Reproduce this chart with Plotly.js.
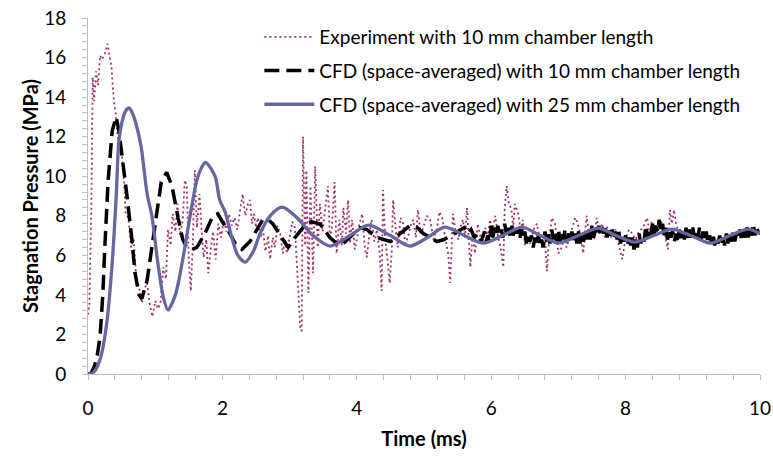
<!DOCTYPE html>
<html>
<head>
<meta charset="utf-8">
<script src="https://cdn.plot.ly/plotly-3.0.1.min.js"></script>
<style>html,body{margin:0;padding:0;background:#fff;}#chart{width:773px;height:460px;}</style>
</head>
<body>
<div id="chart"></div>
<script>
// ---- Data ----
const seriesNames = [
  "Experiment with 10 mm chamber length",
  "CFD (space-averaged) with 10 mm chamber length",
  "CFD (space-averaged) with 25 mm chamber length"
];

// Experiment, 10 mm chamber (time in ms, pressure in MPa)
const expTime = [0,0.02,0.05,0.07,0.09,0.12,0.15,0.18,0.21,0.25,0.29,0.32,0.35,0.38,0.41,0.45,0.5,0.53,0.56,0.6,0.64,0.68,0.72,0.76,0.8,0.84,0.88,0.92,0.96,1.0,1.04,1.08,1.12,1.16,1.19,1.23,1.26,1.3,1.33,1.37,1.41,1.44,1.47,1.5,1.53,1.56,1.59,1.62,1.66,1.69,1.72,1.76,1.79,1.83,1.86,1.9,1.94,1.98,2.02,2.06,2.1,2.14,2.18,2.22,2.26,2.3,2.34,2.38,2.41,2.44,2.47,2.5,2.53,2.57,2.6,2.64,2.68,2.71,2.75,2.78,2.82,2.86,2.9,2.93,2.96,3.0,3.04,3.08,3.11,3.13,3.16,3.18,3.2,3.23,3.25,3.28,3.31,3.35,3.38,3.42,3.45,3.49,3.53,3.57,3.6,3.63,3.67,3.7,3.74,3.78,3.8,3.84,3.87,3.9,3.93,3.97,4.0,4.04,4.08,4.12,4.15,4.19,4.22,4.26,4.3,4.34,4.37,4.39,4.42,4.45,4.49,4.52,4.54,4.58,4.61,4.65,4.69,4.72,4.76,4.8,4.84,4.88,4.91,4.95,4.99,5.04,5.09,5.14,5.19,5.23,5.27,5.31,5.36,5.39,5.43,5.47,5.51,5.55,5.58,5.61,5.64,5.69,5.72,5.76,5.8,5.83,5.87,5.91,5.95,5.98,6.02,6.06,6.1,6.14,6.18,6.2,6.23,6.26,6.3,6.33,6.35,6.4,6.44,6.47,6.5,6.54,6.58,6.63,6.68,6.72,6.75,6.8,6.83,6.85,6.88,6.9,6.95,7.0,7.05,7.09,7.12,7.16,7.2,7.25,7.29,7.33,7.37,7.42,7.45,7.49,7.53,7.57,7.61,7.65,7.69,7.72,7.76,7.8,7.85,7.9,7.95,8.0,8.05,8.1,8.15,8.2,8.26,8.32,8.36,8.39,8.44,8.49,8.54,8.58,8.63,8.66,8.69,8.72,8.75,8.78];
const expPressure = [3.0,3.5,8.5,15.0,13.8,15.3,14.6,16.1,15.9,16.2,16.7,16.1,15.5,14.0,13.2,11.8,11.2,10.2,8.1,7.9,6.4,6.8,4.75,4.4,3.6,4.3,4.6,3.5,2.9,3.7,3.3,3.6,5.4,4.8,7.3,6.5,8.1,7.2,8.6,7.0,7.8,9.8,9.5,5.8,4.2,6.6,10.3,7.4,9.1,7.3,5.9,6.8,5.1,6.4,7.2,5.8,7.6,6.9,7.8,7.2,8.1,7.5,7.9,7.3,8.2,9.1,8.0,8.6,8.8,7.6,8.1,7.4,7.9,6.9,7.4,6.2,7.0,5.8,6.9,6.4,7.5,7.1,6.1,6.8,6.1,6.9,7.7,7.4,5.5,4.6,2.2,2.2,12.0,6.5,10.3,4.1,9.5,5.1,10.5,6.4,8.6,7.2,8.4,9.5,6.8,7.4,9.7,6.1,7.8,6.5,8.4,7.1,8.8,6.6,7.8,6.3,6.8,7.6,8.1,6.4,5.9,7.2,7.8,6.7,7.3,6.1,4.2,9.3,7.0,5.8,4.6,6.2,8.8,7.3,6.4,7.9,7.6,6.6,6.9,7.5,7.8,6.9,8.3,7.1,7.4,8.0,7.8,6.8,7.3,8.2,7.9,7.0,6.1,4.6,8.1,7.2,6.8,7.5,7.8,6.9,8.4,5.4,7.0,6.1,7.6,7.1,6.6,7.4,6.9,7.8,7.2,8.0,7.0,6.4,5.4,8.3,9.5,8.7,8.3,7.4,8.6,8.1,7.2,7.8,6.5,7.0,6.6,7.3,7.6,6.9,6.4,6.9,5.2,6.3,7.2,7.9,7.6,6.1,6.4,7.0,6.4,6.8,7.3,7.9,7.6,6.9,6.1,8.0,7.2,7.4,6.8,7.9,7.1,7.6,6.9,7.5,7.0,6.9,7.3,6.5,5.8,6.9,7.3,7.1,6.8,7.2,7.4,7.9,7.1,7.7,7.0,7.4,7.7,7.1,6.3,8.3,7.6,8.3,7.6,7.3];

// CFD space-averaged, 10 mm chamber
const cfd10Time = [0,0.05,0.1,0.14,0.18,0.22,0.25,0.3,0.36,0.42,0.46,0.52,0.58,0.65,0.7,0.76,0.8,0.88,0.95,1.03,1.09,1.17,1.25,1.34,1.41,1.47,1.55,1.62,1.74,1.86,1.93,2.0,2.08,2.19,2.29,2.41,2.51,2.6,2.68,2.75,2.9,2.98,3.08,3.2,3.32,3.45,3.6,3.7,3.8,3.92,4.05,4.15,4.3,4.5,4.65,4.79,4.9,4.99,5.1,5.19,5.3,5.39,5.5,5.6,5.65,5.7,5.75,5.8,5.85,
  5.9,5.925,5.95,5.975,6.0,6.025,6.05,6.075,6.1,6.125,6.15,6.175,6.2,6.225,6.25,6.275,6.3,6.325,6.35,6.375,6.4,6.425,6.45,6.475,6.5,6.525,6.55,6.575,6.6,6.625,6.65,6.675,6.7,6.725,6.75,6.775,6.8,6.825,6.85,6.875,6.9,6.925,6.95,6.975,
  7.0,7.025,7.05,7.075,7.1,7.125,7.15,7.175,7.2,7.225,7.25,7.275,7.3,7.325,7.35,7.375,7.4,7.425,7.45,7.475,7.5,7.525,7.55,7.575,7.6,7.625,7.65,7.675,7.7,7.725,7.75,7.775,7.8,7.825,7.85,7.875,7.9,7.925,7.95,7.975,
  8.0,8.025,8.05,8.075,8.1,8.125,8.15,8.175,8.2,8.225,8.25,8.275,8.3,8.325,8.35,8.375,8.4,8.425,8.45,8.475,8.5,8.525,8.55,8.575,8.6,8.625,8.65,8.675,8.7,8.725,8.75,8.775,8.8,8.825,8.85,8.875,8.9,8.925,8.95,8.975,
  9.0,9.025,9.05,9.075,9.1,9.125,9.15,9.175,9.2,9.225,9.25,9.275,9.3,9.325,9.35,9.375,9.4,9.425,9.45,9.475,9.5,9.525,9.55,9.575,9.6,9.625,9.65,9.675,9.7,9.725,9.75,9.775,9.8,9.825,9.85,9.875,9.9,9.925,9.95,9.975,10.0];
const cfd10Pressure = [0,0.05,0.45,1.0,1.9,4.0,6.4,9.8,12.3,13.0,12.3,10.8,9.0,6.9,5.1,4.0,3.8,4.75,6.4,8.1,9.7,10.2,9.5,7.9,6.8,6.4,6.3,6.4,7.1,8.0,8.1,7.7,7.3,6.6,6.3,6.7,7.3,7.8,7.8,7.6,6.8,6.4,6.9,7.4,7.7,7.6,6.9,6.6,6.6,7.0,7.4,7.3,6.9,6.7,7.1,7.5,7.4,7.1,6.9,6.7,6.8,7.0,7.2,7.4,7.1,7.3,6.9,7.1,6.7,
  7.2,6.7,7.0,6.6, 7.5,6.9,7.4,7.0, 7.5,7.0,7.3,6.9, 7.6,7.1,7.5,7.0, 7.6,7.0,7.4,7.1, 7.4,6.8,7.3,6.9, 7.2,6.6,7.0,6.7, 7.0,6.4,6.9,6.5, 7.0,6.5,6.8,6.4, 7.2,6.7,7.1,6.6, 7.3,6.8,7.2,6.7,
  7.3,6.7,7.2,6.8, 7.3,6.8,7.1,6.7, 7.2,6.7,7.1,6.6, 7.2,6.6,7.0,6.7, 7.3,6.8,7.2,6.8, 7.5,6.9,7.3,7.0, 7.5,7.0,7.4,7.1, 7.5,6.9,7.4,7.0, 7.3,6.8,7.2,6.8, 7.2,6.6,7.0,6.7,
  7.0,6.5,6.9,6.5, 6.9,6.3,6.8,6.4, 7.1,6.6,7.0,6.7, 7.5,6.9,7.3,7.0, 7.6,7.1,7.5,7.2, 7.8,7.2,7.6,7.0, 7.4,6.8,7.2,6.9, 7.2,6.7,7.1,6.7, 7.3,6.7,7.2,6.8, 7.4,6.8,7.3,6.9,
  7.4,6.9,7.3,6.9, 7.4,6.8,7.2,6.8, 7.2,6.6,7.0,6.7, 7.1,6.5,6.9,6.6, 7.0,6.5,6.9,6.5, 7.1,6.6,7.0,6.7, 7.2,6.7,7.1,6.8, 7.3,6.8,7.2,6.9, 7.5,6.9,7.4,7.0, 7.6,7.0,7.5,7.1, 7.2];

// CFD space-averaged, 25 mm chamber
const cfd25Time = [0,0.05,0.1,0.19,0.28,0.36,0.42,0.46,0.51,0.56,0.61,0.66,0.71,0.79,0.88,0.95,1.04,1.12,1.19,1.3,1.4,1.47,1.55,1.62,1.7,1.75,1.89,1.96,2.04,2.14,2.23,2.34,2.46,2.56,2.71,2.89,3.11,3.35,3.6,3.9,4.17,4.5,4.79,5.05,5.31,5.6,5.88,6.17,6.46,6.73,7.0,7.3,7.59,7.86,8.14,8.42,8.69,8.97,9.26,9.55,9.82,10.0];
const cfd25Pressure = [0,0.02,0.15,0.86,2.6,5.6,9.0,11.8,12.8,13.3,13.45,13.2,12.7,11.5,9.1,8.0,5.6,3.9,3.24,4.0,5.6,7.0,8.6,9.8,10.5,10.7,10.0,8.8,8.2,6.9,6.0,5.66,6.2,7.1,8.0,8.44,7.9,7.0,6.47,7.0,7.53,7.0,6.47,6.9,7.43,7.0,6.62,7.0,7.43,7.0,6.62,7.0,7.38,7.0,6.67,7.0,7.33,7.0,6.62,7.0,7.33,7.1];

// Axis labels
const xTitle = "Time (ms)";
const yTitle = "Stagnation Pressure (MPa)";
const xTickVals = [0,2,4,6,8,10];
const yTickVals = [0,2,4,6,8,10,12,14,16,18];

const FONT = "Lato, 'Open Sans', sans-serif";

const traces = [
  {x: expTime, y: expPressure, name: seriesNames[0], type: "scatter", mode: "lines", legendgroup: "a",
   line: {color: "#a0306a", width: 1.8, dash: "2px,3px"}},
  {x: cfd10Time, y: cfd10Pressure, name: seriesNames[1], type: "scatter", mode: "lines", legendgroup: "b",
   line: {color: "#000000", width: 3.5, dash: "15px,7px"}},
  {x: cfd25Time, y: cfd25Pressure, name: seriesNames[2], type: "scatter", mode: "lines", legendgroup: "c",
   line: {color: "#6666a0", width: 3.3, shape: "spline", smoothing: 0.8}}
];

const axisCommon = {
  showgrid: false, zeroline: false, showline: true, linecolor: "#bfbfbf", linewidth: 1,
  ticks: "outside", ticklen: 5, tickcolor: "#bfbfbf", tickwidth: 1,
  tickfont: {family: FONT, size: 19, color: "#000"}
};

const layout = {
  width: 773, height: 460,
  margin: {l: 88, r: 13, t: 18, b: 86},
  paper_bgcolor: "#fff", plot_bgcolor: "#fff",
  font: {family: FONT, size: 19, color: "#000"},
  showlegend: true,
  legend: {x: 0.255, y: 1.0, xanchor: "left", yanchor: "top", bgcolor: "rgba(0,0,0,0)",
           font: {family: FONT, size: 19, color: "#000"}, itemwidth: 50, tracegroupgap: 6},
  xaxis: Object.assign({}, axisCommon, {
    range: [0, 10], tickvals: xTickVals, ticklabelstandoff: 12,
    minor: {dtick: 0.4, ticks: "outside", ticklen: 5, tickcolor: "#bfbfbf", showgrid: false},
    title: {text: xTitle, font: {family: FONT, size: 20, color: "#000", weight: "bold"}, standoff: 14}
  }),
  yaxis: Object.assign({}, axisCommon, {
    range: [0, 18], tickvals: yTickVals, ticklabelstandoff: 12,
    minor: {dtick: 0.4, ticks: "outside", ticklen: 5, tickcolor: "#bfbfbf", showgrid: false},
    title: {text: yTitle, font: {family: FONT, size: 20, color: "#000", weight: "bold"}, standoff: 0}
  })
};

Plotly.newPlot("chart", traces, layout, {displayModeBar: false, staticPlot: true});
</script>
</body>
</html>
